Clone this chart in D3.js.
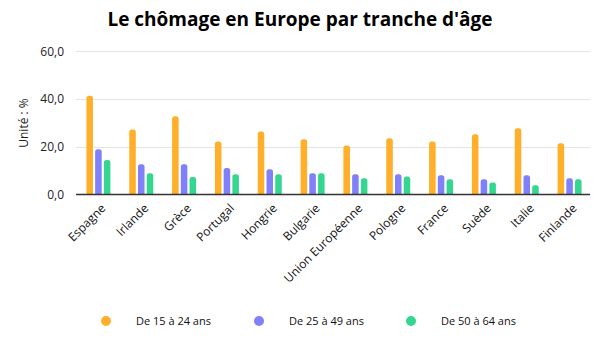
<!DOCTYPE html>
<html>
<head>
<meta charset="utf-8">
<script src="https://cdn.jsdelivr.net/npm/d3@7"></script>
<style>
  body { margin: 0; background: #fff; }
  svg { font-family: "Open Sans", "Noto Sans", sans-serif; }
  .grid line { stroke: #e3e3e3; }
</style>
</head>
<body>
<svg width="600" height="350"></svg>
<script>
var pays = ["Espagne", "Irlande", "Grèce", "Portugal", "Hongrie", "Bulgarie",
  "Union Européenne", "Pologne", "France", "Suède", "Italie", "Finlande"];
var series = ["De 15 à 24 ans", "De 25 à 49 ans", "De 50 à 64 ans"];
var jeunes = [41.3, 27.2, 32.7, 22.2, 26.4, 23.1, 20.5, 23.5, 22.2, 25.2, 27.7, 21.4];
var adultes = [18.9, 12.6, 12.6, 11.0, 10.5, 8.8, 8.4, 8.4, 8.0, 6.3, 8.0, 6.7];
var seniors = [14.4, 8.8, 7.3, 8.4, 8.4, 8.8, 6.7, 7.5, 6.3, 5.0, 3.8, 6.3];
var yTicks = [0, 20, 40, 60];
var colors = ["#FFAF29", "#8080F8", "#35D690"];

var svg = d3.select("svg");
var margin = { left: 76, right: 10, top: 51, bottom: 156 };
var W = 600, H = 350;
var y0 = 194;

var x = d3.scaleBand().domain(pays).range([76, 590]);
var y = d3.scaleLinear().domain([0, 60]).range([194.3, 51.3]);
var xs = d3.scaleBand().domain(d3.range(3)).range([-11, 13]).paddingInner(0.25);

svg.append("text")
  .attr("x", 300).attr("y", 26)
  .attr("text-anchor", "middle")
  .style("font-size", "19px").style("font-weight", "bold")
  .style("fill", "#000")
  .text("Le chômage en Europe par tranche d'âge");

// grid
svg.append("g").attr("class", "grid")
  .selectAll("line").data(yTicks.slice(1)).enter().append("line")
  .attr("x1", 76).attr("x2", 590)
  .attr("y1", function (d) { return Math.round(y(d)) + 0.5; })
  .attr("y2", function (d) { return Math.round(y(d)) + 0.5; });

// y axis labels
var yAxis = d3.axisLeft(y).tickValues(yTicks).tickSize(0).tickPadding(12)
  .tickFormat(function (d) { return d3.format(".1f")(d).replace(".", ","); });
var ga = svg.append("g").attr("transform", "translate(76,0)").call(yAxis);
ga.select(".domain").remove();
ga.selectAll("text").style("font-size", "12px").style("fill", "#222")
  .style("font-family", "'Open Sans', sans-serif");

svg.append("text")
  .attr("transform", "translate(28,123) rotate(-90)")
  .attr("text-anchor", "middle")
  .style("font-size", "12px").style("fill", "#222")
  .text("Unité : %");

// bars
var rows = pays.map(function (p, i) {
  return { pays: p, vals: [jeunes[i], adultes[i], seniors[i]] };
});

function barPath(cx, w, top, bottom) {
  var r = Math.min(2.5, (bottom - top));
  var l = cx - w / 2, rr = cx + w / 2;
  return "M" + l + "," + bottom + "L" + l + "," + (top + r) +
    "Q" + l + "," + top + " " + (l + r) + "," + top +
    "L" + (rr - r) + "," + top +
    "Q" + rr + "," + top + " " + rr + "," + (top + r) +
    "L" + rr + "," + bottom + "Z";
}

var g = svg.append("g");
rows.forEach(function (row) {
  var c = x(row.pays) + x.bandwidth() / 2;
  row.vals.forEach(function (v, k) {
    var bx = c + xs(k) + xs.bandwidth() / 2;
    g.append("path")
      .attr("d", barPath(bx, xs.bandwidth(), y(v), y(0)))
      .attr("fill", colors[k]);
  });
});

// x axis base
svg.append("line")
  .attr("x1", 76).attr("x2", 590)
  .attr("y1", 194.5).attr("y2", 194.5)
  .attr("stroke", "#333").attr("stroke-width", 1.3);

// x labels
svg.append("g").selectAll("text").data(pays).enter().append("text")
  .attr("transform", function (d) {
    return "translate(" + (x(d) + x.bandwidth() / 2 + 6) + ",206) rotate(-45)";
  })
  .attr("text-anchor", "end")
  .attr("dy", "0.35em")
  .style("font-size", "12px").style("fill", "#111")
  .text(function (d) { return d; });

// legend
var legX = [106, 259, 411];
var leg = svg.append("g").selectAll("g").data(series).enter().append("g")
  .attr("transform", function (d, i) { return "translate(" + legX[i] + ",321)"; });
leg.append("circle").attr("r", 5).attr("fill", function (d, i) { return colors[i]; });
leg.append("text").attr("x", 30).attr("dy", "0.35em")
  .style("font-size", "11px").style("fill", "#111")
  .text(function (d) { return d; });
</script>
</body>
</html>
